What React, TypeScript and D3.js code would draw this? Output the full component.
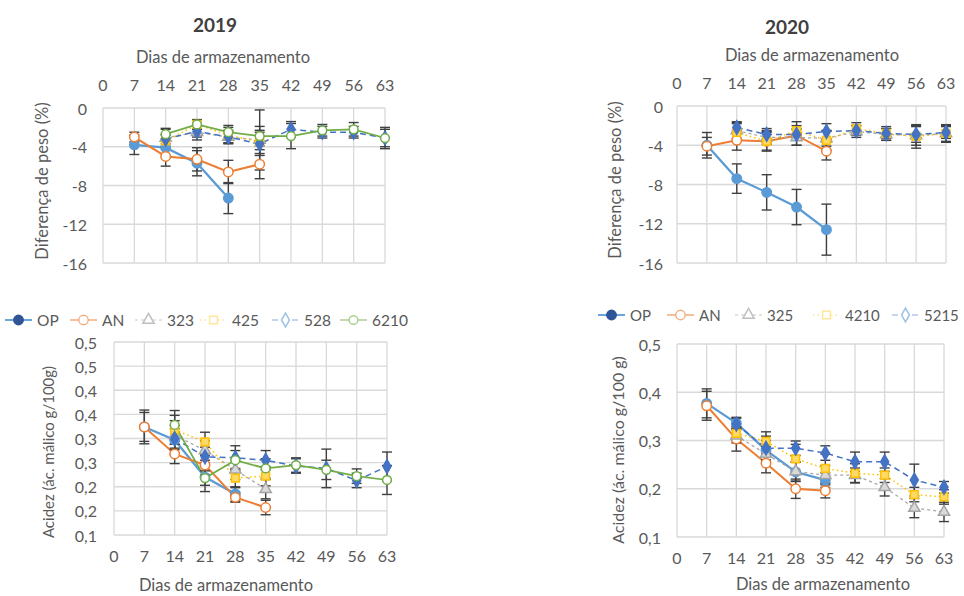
import React from "react";
import * as d3 from "d3";

// ---------- axis ticks ----------
const dayTicks = [0, 7, 14, 21, 28, 35, 42, 49, 56, 63];
const dayTickLabels = ["0", "7", "14", "21", "28", "35", "42", "49", "56", "63"];
const weightTicks = [0, -4, -8, -12, -16];
const weightTickLabels = ["0", "-4", "-8", "-12", "-16"];
const acid2019Ticks = [0.1, 0.15, 0.2, 0.25, 0.3, 0.35, 0.4, 0.45, 0.5];
const acid2019TickLabels = ["0,1", "0,2", "0,2", "0,3", "0,3", "0,4", "0,4", "0,5", "0,5"];
const acid2020Ticks = [0.1, 0.2, 0.3, 0.4, 0.5];
const acid2020TickLabels = ["0,1", "0,2", "0,3", "0,4", "0,5"];

// ---------- sampling days ----------
const days4 = [7, 14, 21, 28];
const days5 = [7, 14, 21, 28, 35];
const daysMid = [14, 21, 28, 35];
const daysLate = [14, 21, 28, 35, 42, 49, 56, 63];

// ---------- legends ----------
const names2019 = ["OP", "AN", "323", "425", "528", "6210"];
const names2020 = ["OP", "AN", "325", "4210", "5215"];

// ---------- 2019 weight difference (%) ----------
const w19_OP = [-3.8, -4.1, -5.7, -9.3];
const w19_OP_err = [1.0, 0.9, 1.3, 1.6];
const w19_AN = [-3.0, -5.0, -5.3, -6.6, -5.8];
const w19_AN_err = [0.5, 1.0, 1.2, 1.2, 1.5];
const w19_323 = [-3.1, -2.5, -3.0, -3.3];
const w19_323_err = [0.9, 0.8, 0.7, 3.1];
const w19_425 = [-3.4, -1.7, -2.8, -3.5];
const w19_425_err = [0.6, 0.5, 0.8, 1.2];
const w19_528 = [-3.2, -2.4, -3.0, -3.7, -2.2, -2.5, -2.5, -3.1];
const w19_528_err = [0.5, 0.6, 0.6, 1.2, 0.8, 0.6, 0.6, 0.9];
const w19_6210 = [-2.7, -1.7, -2.5, -2.9, -2.9, -2.3, -2.2, -3.1];
const w19_6210_err = [0.6, 0.5, 0.7, 1.0, 1.3, 0.6, 0.7, 1.1];

// ---------- 2020 weight difference (%) ----------
const w20_OP = [-4.0, -7.4, -8.8, -10.3, -12.6];
const w20_OP_err = [1.3, 1.5, 1.8, 1.8, 2.6];
const w20_AN = [-4.1, -3.5, -3.6, -3.0, -4.6];
const w20_AN_err = [0.9, 1.0, 1.0, 1.0, 0.9];
const w20_325 = [-2.5, -3.2, -3.2, -3.3, -2.6, -2.9, -3.0, -2.8];
const w20_325_err = [0.8, 0.7, 0.8, 0.8, 0.6, 0.6, 1.0, 0.8];
const w20_4210 = [-2.7, -3.6, -2.5, -3.5, -2.3, -2.8, -3.1, -2.8];
const w20_4210_err = [0.9, 0.9, 0.9, 1.0, 0.6, 0.7, 1.2, 0.9];
const w20_5215 = [-2.2, -2.9, -2.9, -2.6, -2.5, -2.8, -2.9, -2.7];
const w20_5215_err = [0.6, 0.6, 0.6, 0.8, 0.5, 0.5, 0.8, 0.6];

// ---------- 2019 acidity ----------
const a19_OP = [0.324, 0.297, 0.22, 0.185];
const a19_OP_err = [0.035, 0.03, 0.03, 0.015];
const a19_AN = [0.324, 0.268, 0.245, 0.178, 0.157];
const a19_AN_err = [0.03, 0.02, 0.02, 0.01, 0.015];
const a19_323 = [0.307, 0.275, 0.235, 0.195];
const a19_323_err = [0.03, 0.02, 0.02, 0.02];
const a19_425 = [0.318, 0.293, 0.218, 0.222];
const a19_425_err = [0.03, 0.02, 0.02, 0.02];
const a19_528 = [0.3, 0.262, 0.26, 0.255, 0.243, 0.238, 0.213, 0.242];
const a19_528_err = [0.02, 0.02, 0.025, 0.02, 0.015, 0.04, 0.015, 0.03];
const a19_6210 = [0.328, 0.218, 0.255, 0.238, 0.245, 0.235, 0.222, 0.214];
const a19_6210_err = [0.03, 0.015, 0.02, 0.02, 0.015, 0.02, 0.015, 0.03];

// ---------- 2020 acidity ----------
const a20_OP = [0.377, 0.336, 0.28, 0.235, 0.218];
const a20_OP_err = [0.03, 0.012, 0.02, 0.02, 0.015];
const a20_AN = [0.372, 0.303, 0.253, 0.2, 0.196];
const a20_AN_err = [0.03, 0.025, 0.02, 0.02, 0.015];
const a20_325 = [0.31, 0.272, 0.236, 0.228, 0.228, 0.203, 0.16, 0.152];
const a20_325_err = [0.015, 0.015, 0.02, 0.02, 0.015, 0.018, 0.02, 0.02];
const a20_4210 = [0.315, 0.298, 0.262, 0.242, 0.232, 0.228, 0.188, 0.183];
const a20_4210_err = [0.015, 0.02, 0.03, 0.03, 0.02, 0.015, 0.015, 0.015];
const a20_5215 = [0.334, 0.284, 0.284, 0.274, 0.256, 0.256, 0.218, 0.203];
const a20_5215_err = [0.012, 0.025, 0.015, 0.015, 0.02, 0.02, 0.033, 0.012];

// ---------- styles ----------
type Style = {
  color: string; width: number; dash?: string;
  marker: "circle" | "triangle" | "square" | "diamond";
  fill: string; mstroke: string; legendFill: string; legendStroke: string; size: number;
};
const STY: Record<string, Style> = {
  OP: { color: "#5B9BD5", width: 2.25, marker: "circle", fill: "#5B9BD5", mstroke: "#5B9BD5", legendFill: "#2F5597", legendStroke: "#2F5597", size: 70 },
  AN: { color: "#ED7D31", width: 2, marker: "circle", fill: "#ffffff", mstroke: "#ED7D31", legendFill: "#ffffff", legendStroke: "#F4B183", size: 70 },
  T3: { color: "#A5A5A5", width: 1.25, dash: "3,3", marker: "triangle", fill: "#D9D9D9", mstroke: "#A5A5A5", legendFill: "#ffffff", legendStroke: "#BFBFBF", size: 55 },
  T4: { color: "#FFC000", width: 1.5, dash: "1.5,3", marker: "square", fill: "#FFD966", mstroke: "#FFC000", legendFill: "#ffffff", legendStroke: "#FFE699", size: 60 },
  T5: { color: "#4472C4", width: 1.5, dash: "6,4", marker: "diamond", fill: "#4472C4", mstroke: "#4472C4", legendFill: "#ffffff", legendStroke: "#9DC3E6", size: 55 },
  T6: { color: "#70AD47", width: 1.75, marker: "circle", fill: "#ffffff", mstroke: "#70AD47", legendFill: "#ffffff", legendStroke: "#A9D18E", size: 60 },
};
const styleKeys2019 = ["OP", "AN", "T3", "T4", "T5", "T6"];
const styleKeys2020 = ["OP", "AN", "T3", "T4", "T5"];

type Series = { key: string; days: number[]; vals: number[]; err: number[] };

const weight2019: Series[] = [
  { key: "OP", days: days4, vals: w19_OP, err: w19_OP_err },
  { key: "AN", days: days5, vals: w19_AN, err: w19_AN_err },
  { key: "T3", days: daysMid, vals: w19_323, err: w19_323_err },
  { key: "T4", days: daysMid, vals: w19_425, err: w19_425_err },
  { key: "T5", days: daysLate, vals: w19_528, err: w19_528_err },
  { key: "T6", days: daysLate, vals: w19_6210, err: w19_6210_err },
];
const weight2020: Series[] = [
  { key: "OP", days: days5, vals: w20_OP, err: w20_OP_err },
  { key: "AN", days: days5, vals: w20_AN, err: w20_AN_err },
  { key: "T3", days: daysLate, vals: w20_325, err: w20_325_err },
  { key: "T4", days: daysLate, vals: w20_4210, err: w20_4210_err },
  { key: "T5", days: daysLate, vals: w20_5215, err: w20_5215_err },
];
const acid2019: Series[] = [
  { key: "OP", days: days4, vals: a19_OP, err: a19_OP_err },
  { key: "AN", days: days5, vals: a19_AN, err: a19_AN_err },
  { key: "T3", days: daysMid, vals: a19_323, err: a19_323_err },
  { key: "T4", days: daysMid, vals: a19_425, err: a19_425_err },
  { key: "T5", days: daysLate, vals: a19_528, err: a19_528_err },
  { key: "T6", days: daysLate, vals: a19_6210, err: a19_6210_err },
];
const acid2020: Series[] = [
  { key: "OP", days: days5, vals: a20_OP, err: a20_OP_err },
  { key: "AN", days: days5, vals: a20_AN, err: a20_AN_err },
  { key: "T3", days: daysLate, vals: a20_325, err: a20_325_err },
  { key: "T4", days: daysLate, vals: a20_4210, err: a20_4210_err },
  { key: "T5", days: daysLate, vals: a20_5215, err: a20_5215_err },
];

const FONT = "Lato, 'Open Sans', sans-serif";
const TXT = "#595959";
const GRID = "#D9D9D9";
const ERR = "#404040";

const symType: Record<string, d3.SymbolType> = {
  circle: d3.symbolCircle, triangle: d3.symbolTriangle, square: d3.symbolSquare, diamond: d3.symbolDiamond,
};

function Marker({ s, cx, cy, legend }: { s: Style; cx: number; cy: number; legend?: boolean }) {
  const d = d3.symbol().type(symType[s.marker]).size(s.size)() || "";
  return (
    <path d={d} transform={`translate(${cx},${cy})`}
      fill={legend ? s.legendFill : s.fill}
      stroke={legend ? s.legendStroke : s.mstroke} strokeWidth={1.5} />
  );
}

type PanelCfg = {
  x0: number; x1: number; yTop: number; yBottom: number;
  yDomain: [number, number]; yTicks: number[]; yTickLabels: string[];
  yTickX: number; xTickY: number; xTitleX: number; xTitleY: number;
  yTitle: string; yTitleX: number; yTitleY: number; yTitleSize: number;
  series: Series[];
};

function Panel({ c }: { c: PanelCfg }) {
  const x = d3.scaleLinear().domain([0, 63]).range([c.x0, c.x1]);
  const y = d3.scaleLinear().domain(c.yDomain).range([c.yBottom, c.yTop]);
  const line = d3.line<[number, number]>().x((d) => x(d[0])).y((d) => y(d[1]));
  return (
    <g>
      {dayTicks.map((t) => (
        <line key={"v" + t} x1={x(t)} x2={x(t)} y1={c.yTop} y2={c.yBottom} stroke={GRID} strokeWidth={1.3} />
      ))}
      {c.yTicks.map((t) => (
        <line key={"h" + t} x1={c.x0} x2={c.x1} y1={y(t)} y2={y(t)} stroke={GRID} strokeWidth={1.3} />
      ))}
      {dayTicks.map((t, i) => (
        <text key={"xt" + t} x={x(t)} y={c.xTickY} textAnchor="middle" dominantBaseline="central"
          fontSize={16} fill={TXT} fontFamily={FONT}>{dayTickLabels[i]}</text>
      ))}
      {c.yTicks.map((t, i) => (
        <text key={"yt" + t} x={c.yTickX} y={y(t)} textAnchor="end" dominantBaseline="central"
          fontSize={16} fill={TXT} fontFamily={FONT}>{c.yTickLabels[i]}</text>
      ))}
      <text x={c.xTitleX} y={c.xTitleY} textAnchor="middle" dominantBaseline="central" fontSize={16.5}
        fill={TXT} fontFamily={FONT}>Dias de armazenamento</text>
      <text transform={`translate(${c.yTitleX},${c.yTitleY}) rotate(-90)`} textAnchor="middle"
        dominantBaseline="central" fontSize={c.yTitleSize} fill={TXT} fontFamily={FONT}>{c.yTitle}</text>
      {c.series.map((s) => {
        const st = STY[s.key];
        const pts = s.days.map((d, i) => [d, s.vals[i]] as [number, number]);
        return (
          <path key={"l" + s.key} d={line(pts) || ""} fill="none" stroke={st.color} strokeWidth={st.width}
            strokeDasharray={st.dash} />
        );
      })}
      {c.series.map((s) =>
        s.days.map((d, i) => {
          const cx = x(d);
          const hi = y(s.vals[i] + s.err[i]);
          const lo = y(s.vals[i] - s.err[i]);
          return (
            <g key={"e" + s.key + d} stroke={ERR} strokeWidth={1.4}>
              <line x1={cx} x2={cx} y1={hi} y2={lo} />
              <line x1={cx - 5} x2={cx + 5} y1={hi} y2={hi} />
              <line x1={cx - 5} x2={cx + 5} y1={lo} y2={lo} />
            </g>
          );
        })
      )}
      {c.series.map((s) =>
        s.days.map((d, i) => (
          <Marker key={"m" + s.key + d} s={STY[s.key]} cx={x(d)} cy={y(s.vals[i])} />
        ))
      )}
    </g>
  );
}

function Legend({ names, keys, xs, y, size }: { names: string[]; keys: string[]; xs: number[]; y: number; size: number }) {
  return (
    <g>
      {names.map((n, i) => {
        const st = STY[keys[i]];
        const x = xs[i];
        return (
          <g key={n}>
            <line x1={x} x2={x + 27} y1={y} y2={y} stroke={st.color} strokeWidth={st.width * 0.8}
              strokeDasharray={st.dash} opacity={keys[i] === "OP" ? 1 : 0.6} />
            <Marker s={st} cx={x + 13.5} cy={y} legend />
            <text x={x + 32} y={y} dominantBaseline="central" fontSize={size} fill={TXT} fontFamily={FONT}>{n}</text>
          </g>
        );
      })}
    </g>
  );
}

export default function App() {
  const p1: PanelCfg = {
    x0: 103, x1: 385, yTop: 108, yBottom: 263, yDomain: [-16, 0], yTicks: weightTicks, yTickLabels: weightTickLabels,
    yTickX: 87, xTickY: 84, xTitleX: 223, xTitleY: 57, yTitle: "Diferença de peso (%)", yTitleX: 42, yTitleY: 181,
    yTitleSize: 16.5, series: weight2019,
  };
  const p2: PanelCfg = {
    x0: 677, x1: 946, yTop: 106, yBottom: 263, yDomain: [-16, 0], yTicks: weightTicks, yTickLabels: weightTickLabels,
    yTickX: 663, xTickY: 82, xTitleX: 812, xTitleY: 55, yTitle: "Diferença de peso (%)", yTitleX: 615, yTitleY: 180,
    yTitleSize: 16.5, series: weight2020,
  };
  const p3: PanelCfg = {
    x0: 114, x1: 387, yTop: 342, yBottom: 535, yDomain: [0.1, 0.5], yTicks: acid2019Ticks, yTickLabels: acid2019TickLabels,
    yTickX: 97, xTickY: 555, xTitleX: 226, xTitleY: 585, yTitle: "Acidez (ác. málico g/100g)", yTitleX: 48, yTitleY: 452,
    yTitleSize: 15, series: acid2019,
  };
  const p4: PanelCfg = {
    x0: 677, x1: 944, yTop: 344, yBottom: 537, yDomain: [0.1, 0.5], yTicks: acid2020Ticks, yTickLabels: acid2020TickLabels,
    yTickX: 661, xTickY: 557, xTitleX: 823, xTitleY: 584, yTitle: "Acidez (ác. málico g/100 g)", yTitleX: 617, yTitleY: 450,
    yTitleSize: 16, series: acid2020,
  };
  return (
    <svg width={964} height={596} style={{ position: "absolute", left: 0, top: 0, background: "#fff" }}>
      <rect width={964} height={596} fill="#fff" />
      <text x={215} y={24} textAnchor="middle" dominantBaseline="central" fontSize={19} fontWeight="bold"
        fill="#404040" fontFamily={FONT}>2019</text>
      <text x={787} y={26} textAnchor="middle" dominantBaseline="central" fontSize={19} fontWeight="bold"
        fill="#404040" fontFamily={FONT}>2020</text>
      <Panel c={p1} />
      <Panel c={p2} />
      <Panel c={p3} />
      <Panel c={p4} />
      <Legend names={names2019} keys={styleKeys2019} xs={[5, 70, 135, 200, 272, 340]} y={320} size={15.5} />
      <Legend names={names2020} keys={styleKeys2020} xs={[598, 667, 735, 813, 892]} y={315} size={15} />
    </svg>
  );
}
